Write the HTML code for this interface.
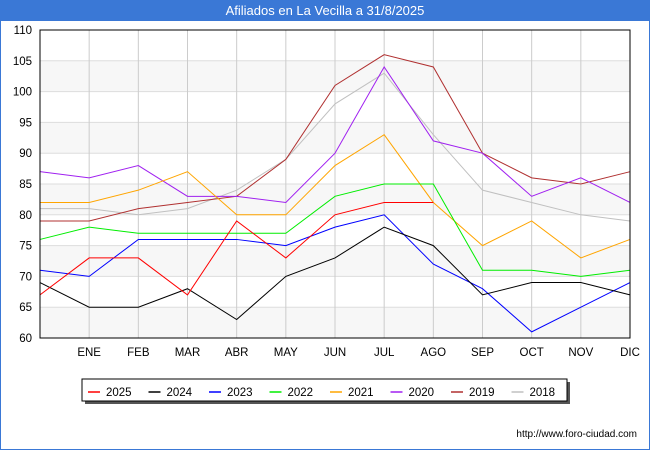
<!DOCTYPE html>
<html><head><meta charset="utf-8"><style>
body{margin:0;width:650px;height:450px;background:#fff;font-family:"Liberation Sans",sans-serif;overflow:hidden}
</style></head><body>
<svg width="650" height="450">
<rect x="0" y="0" width="650" height="450" fill="#fff" stroke="#3a78d6" stroke-width="2"/>
<rect x="0" y="0" width="650" height="21" fill="#3a78d6"/>
<text x="325" y="15" text-anchor="middle" fill="#fff" font-size="13">Afiliados en La Vecilla a 31/8/2025</text>
<g id="plot"></g>
<text x="637" y="437" text-anchor="end" font-size="10" fill="#000">http://www.foro-ciudad.com</text>
</svg>
<script>
const months=["","ENE","FEB","MAR","ABR","MAY","JUN","JUL","AGO","SEP","OCT","NOV","DIC"];
const yTicks=[60,65,70,75,80,85,90,95,100,105,110];
const seriesNames=["2025","2024","2023","2022","2021","2020","2019","2018"];
const colors=["#ff0000","#000000","#0000ff","#00ee00","#ffa500","#a020f0","#b03030","#c0c0c0"];
const s2025=[67,73,73,67,79,73,80,82,82];
const s2024=[69,65,65,68,63,70,73,78,75,67,69,69,67];
const s2023=[71,70,76,76,76,75,78,80,72,68,61,65,69];
const s2022=[76,78,77,77,77,77,83,85,85,71,71,70,71];
const s2021=[82,82,84,87,80,80,88,93,82,75,79,73,76];
const s2020=[87,86,88,83,83,82,90,104,92,90,83,86,82];
const s2019=[79,79,81,82,83,89,101,106,104,90,86,85,87];
const s2018=[81,81,80,81,84,89,98,103,93,84,82,80,79];
const allSeries=[s2025,s2024,s2023,s2022,s2021,s2020,s2019,s2018];
const L=40,R=630,T=30,B=338,ymin=60,ymax=110;
const X=i=>L+i*(R-L)/12;
const Y=v=>B-(v-ymin)*(B-T)/(ymax-ymin);
const NS="http://www.w3.org/2000/svg";
const g=document.getElementById('plot');
function mk(t,a){const e=document.createElementNS(NS,t);for(const k in a)e.setAttribute(k,a[k]);g.appendChild(e);return e;}
for(let i=0;i<yTicks.length-1;i++){
  if(i%2===0){const r=mk('rect',{x:L,y:Y(yTicks[i+1]),width:R-L,height:Y(yTicks[i])-Y(yTicks[i+1]),fill:'#f7f7f7'});
  
  }
}
yTicks.forEach(v=>{
  const l=mk('line',{x1:L,x2:R,y1:Y(v),y2:Y(v),stroke:'#dddddd'});
  
  
  const t=mk('text',{x:L-8,y:Y(v)+4,'text-anchor':'end','font-size':'11.5',fill:'#000'});
  t.textContent=v;
  
  
});
months.forEach((m,i)=>{
  if(i>0){const l=mk('line',{x1:X(i),x2:X(i),y1:T,y2:B,stroke:'#cccccc'});
  
  }
  if(m){const t=mk('text',{x:X(i),y:B+18,'text-anchor':'middle','font-size':'11.5',fill:'#000'});
  t.textContent=m;
  
  }
});
for(let s=allSeries.length-1;s>=0;s--){
  const pts=allSeries[s].map((v,i)=>X(i)+','+Y(v)).join(' ');
  const p=mk('polyline',{points:pts,fill:'none',stroke:colors[s],'stroke-width':1});
  
  
}
const ax=mk('rect',{x:L,y:T,width:R-L,height:B-T,fill:'none',stroke:'#000'});


const sh=mk('rect',{x:85,y:382,width:485,height:22,fill:'#555'});


const lb=mk('rect',{x:82,y:379,width:485,height:22,fill:'#fff',stroke:'#000'});


seriesNames.forEach((n,i)=>{
  const x0=88+i*60.5;
  const l=mk('line',{x1:x0,x2:x0+12,y1:392,y2:392,stroke:colors[i],'stroke-width':1.5});
  
  
  const t=mk('text',{x:x0+18,y:396,'font-size':'11.5',fill:'#000'});
  t.textContent=n;
  
  
});
</script>
</body></html>
